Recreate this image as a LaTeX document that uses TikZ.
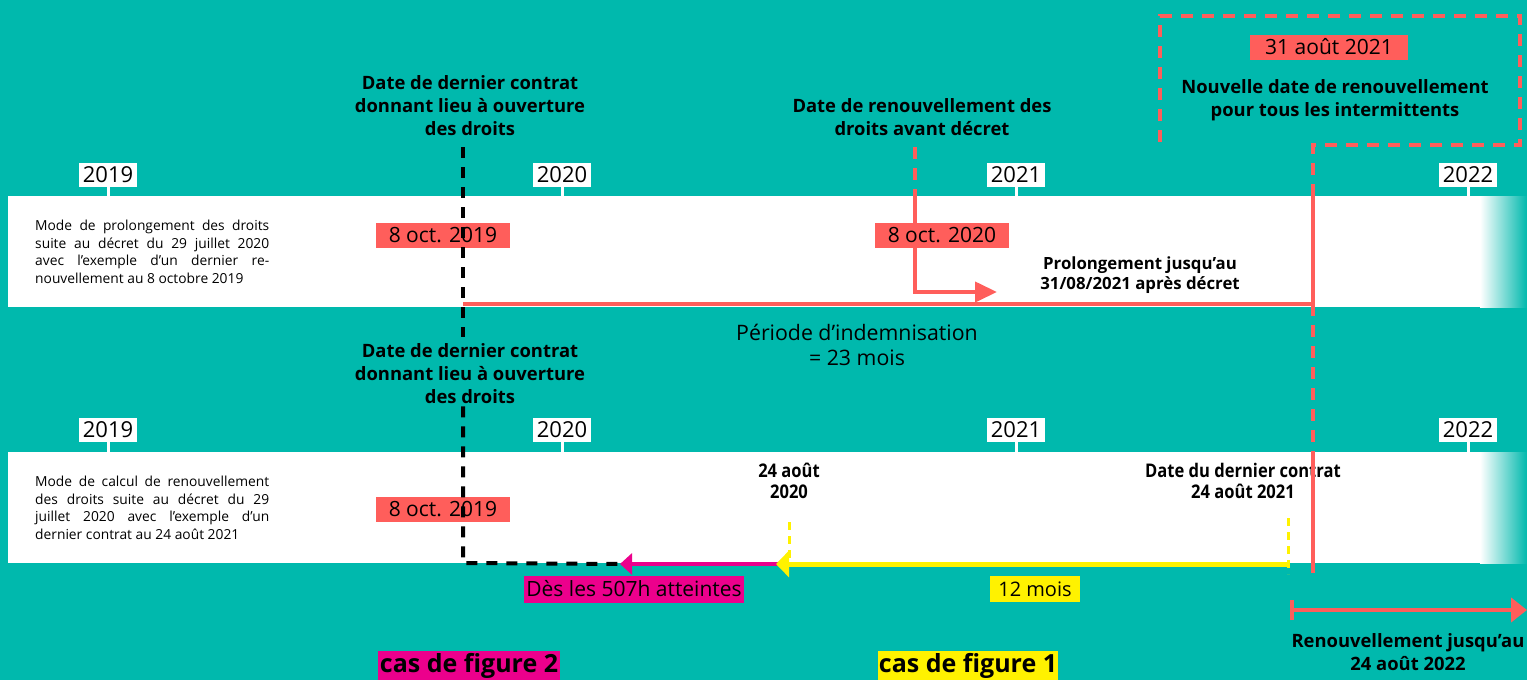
\documentclass[tikz,border=0pt]{standalone}
\usepackage{fontspec}
\setmainfont{Open Sans}
\newfontfamily\condfont[FakeStretch=0.88]{Open Sans}
\usetikzlibrary{arrows.meta,positioning}
\definecolor{teal0}{RGB}{0,185,173}
\definecolor{coral}{RGB}{255,94,91}
\definecolor{magen}{RGB}{236,0,140}
\definecolor{yell}{RGB}{255,242,0}

\begin{document}
\begin{tikzpicture}[x=1pt,y=-1pt,
	yearlbl/.style={fill=white,inner xsep=4pt,inner ysep=0pt,minimum height=24pt,font=\fontsize{22}{24}\selectfont},
	datebox/.style={fill=coral,minimum width=134pt,minimum height=25pt,inner sep=0pt,font=\fontsize{21}{23}\selectfont},
	boldlbl/.style={align=center,inner sep=2pt,font=\fontsize{18.4}{23}\selectfont\bfseries},
	condlbl/.style={align=center,inner sep=2pt,font=\condfont\fontsize{18.8}{21}\selectfont\bfseries},
	desc/.style={anchor=west,text width=234pt,align=justify,inner sep=0pt,font=\fontsize{13.8}{17.5}\selectfont},
	blkdash/.style={black,line width=4pt,dash pattern=on 11pt off 9pt},
	reddash/.style={coral,line width=4pt,dash pattern=on 12pt off 9pt},
	yeldash/.style={yell,line width=3pt,dash pattern=on 8pt off 6pt}]
	\useasboundingbox (0,0) rectangle (1527,680);
	\fill[teal0] (0,0) rectangle (1527,680);
	
	% the two time bands
	\foreach \yt in {196,452} {
		\fill[white] (8,\yt) rectangle (1482,\yt+111);
		\shade[left color=white,right color=teal0] (1480,\yt) rectangle (1527,\yt+111);
	}
	\foreach \yr/\x in {2019/108,2020/562,2021/1016,2022/1468} {
		\node[yearlbl] (ya\yr) at (\x,175) {\yr};
		\draw[white,line width=3pt] (ya\yr.south) -- ++(0,10);
		\node[yearlbl] (yb\yr) at (\x,430) {\yr};
		\draw[white,line width=3pt] (yb\yr.south) -- ++(0,10);
	}
	
	\node[desc] (descA) at (35,252) {Mode de prolongement des droits\linebreak suite au décret du 29 juillet 2020\linebreak avec l’exemple d’un dernier re-\linebreak nouvellement au 8 octobre 2019};
	\node[desc] (descB) at (35,508) {Mode de calcul de renouvellement\linebreak des droits suite au décret du 29\linebreak juillet 2020 avec l’exemple d’un\linebreak dernier contrat au 24 août 2021};
	
	% labels
	\node[boldlbl] (lblA) at (470,106) {Date de dernier contrat\\donnant lieu à ouverture\\des droits};
	\node[boldlbl] (lblB) at (470,374) {Date de dernier contrat\\donnant lieu à ouverture\\des droits};
	\node[boldlbl] (lblR) at (922,117) {Date de renouvellement des\\droits avant décret};
	\node[boldlbl] (lblN) at (1335,100) {Nouvelle date de renouvellement\\pour tous les intermittents};
	\node[boldlbl,font=\fontsize{16.8}{20}\selectfont\bfseries] (lblP) at (1140,275) {Prolongement jusqu’au\\31/08/2021 après décret};
	\node[align=center,font=\fontsize{21.3}{25}\selectfont] (per) at (857,345) {Période d’indemnisation\\= 23 mois};
	\node[condlbl] (l24a) at (789,481) {24 août\\2020};
	\node[condlbl] (l24b) at (1243,481) {Date du dernier contrat\\24 août 2021};
	\node[boldlbl] (lren) at (1408,652) {Renouvellement jusqu’au\\24 août 2022};
	
	\coordinate (c463) at (463,563);
	\coordinate (r20) at (915,292);
	\coordinate (r20end) at (997,292);
	\coordinate (p1) at (1313,304);
	\coordinate (p2) at (1313,573);
	\coordinate (ya) at (789,564);
	\coordinate (yb) at (1288,564);
	\coordinate (mtip) at (620,564);
	
	% red lines, top band
	\draw[reddash,shorten <=9pt] (lblR.south -| r20) -- (r20 |- 0,196);
	\draw[coral,line width=4pt,-{Triangle[length=22pt,width=20pt]}] (r20 |- 0,196) -- (r20) -- (r20end);
	\draw[reddash] (1160,142) -- (1160,16) -- (1520,16) -- (1520,145) -- (1313,145) -- (p1 |- 0,196);
	\draw[coral,line width=4pt] (463,304) -- (p1) -- (p1 |- 0,196);
	\draw[reddash] (p1) -- (p1 |- 0,452);
	\draw[coral,line width=4pt] (p1 |- 0,452) -- (p2);
	
	\node[datebox] (d19a) at (443,235) {8 oct. 2019};
	\node[datebox] (d19b) at (443,509) {8 oct. 2019};
	\node[datebox] (d20) at (942,235) {8 oct. 2020};
	\node[datebox,minimum width=158pt] (d31) at (1329,47) {31 août 2021};
	
	% black dashed line
	\draw[blkdash,shorten <=9pt,shorten >=5pt] (lblA.south -| c463) -- (lblB.north -| c463);
	\draw[blkdash] (lblB.south -| c463) -- (c463) -- (mtip);
	
	% bottom band
	\draw[yeldash] (ya |- 0,522) -- (ya);
	\draw[yeldash] (yb |- 0,518) -- (yb |- 0,574);
	\draw[magen,line width=4pt,-{Triangle[length=12pt,width=21pt]}] (782,564) -- (mtip);
	\draw[yell,line width=5pt,-{Triangle[length=13pt,width=26pt]}] (yb) -- (776,564);
	\node[fill=magen,inner xsep=2pt,inner ysep=0pt,minimum height=27pt,font=\fontsize{21}{23}\selectfont] (m507) at (634,589) {Dès les 507h atteintes};
	\node[fill=yell,minimum width=90pt,minimum height=26pt,inner sep=0pt,font=\fontsize{20}{22}\selectfont] (m12) at (1035,589) {12 mois};
	\coordinate (rs) at (1290,610);
	\coordinate (re) at (1527,610);
	\draw[coral,line width=4pt,{Bar[width=20pt]}-{Triangle[length=16pt,width=24pt]}] (rs) -- (re);
	
	\node[fill=magen,minimum width=182pt,minimum height=30pt,inner sep=0pt,font=\fontsize{25}{27}\selectfont\bfseries] (cas2) at (469,666) {cas de figure 2};
	\node[fill=yell,minimum width=180pt,minimum height=30pt,inner sep=0pt,font=\fontsize{25}{27}\selectfont\bfseries] (cas1) at (968,666) {cas de figure 1};
\end{tikzpicture}
\end{document}
